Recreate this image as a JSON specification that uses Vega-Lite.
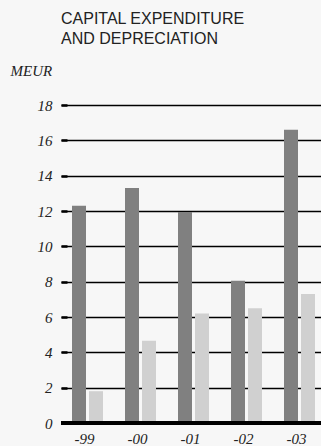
{
  "$schema": "https://vega.github.io/schema/vega-lite/v6.json",
  "autosize": {"type": "none"},
  "width": 265,
  "height": 318,
  "padding": {"left": 61, "top": 105, "right": 0, "bottom": 23},
  "background": "#f7f7f7",
  "title": {
    "text": ["CAPITAL EXPENDITURE", "AND DEPRECIATION"],
    "anchor": "start",
    "frame": "group",
    "font": "Liberation Sans",
    "fontSize": 16,
    "fontWeight": "normal",
    "color": "#222222",
    "lineHeight": 20,
    "offset": 16
  },
  "config": {"view": {"stroke": null}},
  "data": {
    "values": [
      {"year": "-99", "type": "Capital expenditure", "value": 12.3},
      {"year": "-99", "type": "Depreciation", "value": 1.8},
      {"year": "-00", "type": "Capital expenditure", "value": 13.3},
      {"year": "-00", "type": "Depreciation", "value": 4.65},
      {"year": "-01", "type": "Capital expenditure", "value": 11.95},
      {"year": "-01", "type": "Depreciation", "value": 6.2},
      {"year": "-02", "type": "Capital expenditure", "value": 8.05},
      {"year": "-02", "type": "Depreciation", "value": 6.5},
      {"year": "-03", "type": "Capital expenditure", "value": 16.6},
      {"year": "-03", "type": "Depreciation", "value": 7.3}
    ]
  },
  "layer": [
    {
      "mark": {"type": "bar"},
      "encoding": {
        "x": {
          "field": "year", "type": "nominal", "sort": null,
          "scale": {"paddingInner": 0.415, "paddingOuter": 0.2075},
          "axis": {
            "title": null, "labelAngle": 0, "domain": false, "ticks": false,
            "labelFont": "Liberation Serif", "labelFontStyle": "italic",
            "labelFontSize": 15, "labelColor": "#222222", "labelPadding": 8,
            "labelOffset": -3
          }
        },
        "xOffset": {
          "field": "type", "type": "nominal", "sort": null,
          "scale": {"paddingInner": 0.176, "paddingOuter": 0}
        },
        "y": {
          "field": "value", "type": "quantitative",
          "scale": {"domain": [0, 18], "nice": false},
          "axis": {
            "values": [0, 2, 4, 6, 8, 10, 12, 14, 16, 18],
            "tickCount": 10,
            "labelOverlap": false,
            "labelBound": false,
            "labelFlush": false,
            "domain": false,
            "grid": true, "gridColor": "#000000", "gridWidth": 1.5, "gridOpacity": 1,
            "ticks": true, "tickSize": -6, "tickWidth": 2.5, "tickColor": "#000000",
            "labelFont": "Liberation Serif", "labelFontStyle": "italic",
            "labelFontSize": 15, "labelColor": "#222222", "labelPadding": 15,
            "title": "MEUR", "titleAngle": 0, "titleAlign": "left",
            "titleBaseline": "alphabetic", "titleX": -51, "titleY": -30,
            "titleFont": "Liberation Serif", "titleFontStyle": "italic",
            "titleFontWeight": "normal", "titleFontSize": 15, "titleColor": "#222222"
          }
        },
        "color": {
          "field": "type", "type": "nominal",
          "scale": {"domain": ["Capital expenditure", "Depreciation"], "range": ["#808080", "#d0d0d0"]},
          "legend": null
        }
      }
    },
    {
      "mark": {"type": "rule", "color": "#000000", "strokeWidth": 4},
      "encoding": {"y": {"datum": 0}}
    }
  ]
}
